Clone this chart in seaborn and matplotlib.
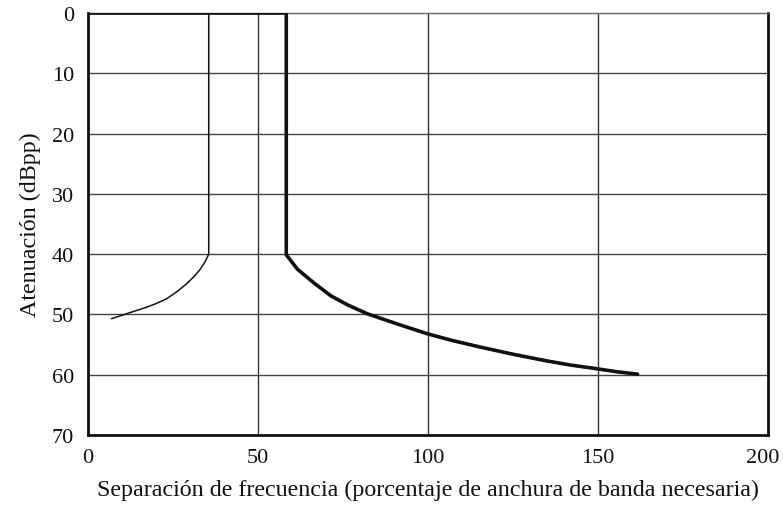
import matplotlib
matplotlib.use("Agg")
import matplotlib.pyplot as plt
import matplotlib.transforms as mtransforms
import seaborn as sns
import pandas as pd

# Thick mask: flat 0 dB out to the band edge, step down to 40 dB, then roll-off
mask_x = [0, 58.3, 58.3, 61.6, 66.5, 71.4, 76.3, 82.2, 91.6, 99.8,
          107.0, 115.3, 125.0, 134.9, 142.0, 149.6, 155.5, 161.6]
mask_y = [0, 0, 40.1, 42.5, 44.8, 46.9, 48.4, 49.9, 51.7, 53.2,
          54.3, 55.4, 56.6, 57.7, 58.4, 59.0, 59.5, 59.9]

# Thin mask: vertical step at the inner edge, then curve towards lower offsets
thin_x = [35.5, 35.5, 34.4, 33.0, 31.2, 29.0, 26.2, 23.1, 20.0, 17.2, 6.9]
thin_y = [0, 40.0, 41.3, 42.5, 43.7, 44.9, 46.2, 47.4, 48.2, 48.8, 50.7]

x_ticks = [0, 50, 100, 150, 200]
y_ticks = [0, 10, 20, 30, 40, 50, 60, 70]

sns.set_style("white")
plt.rcParams["font.family"] = ["Liberation Serif", "DejaVu Serif"]

fig = plt.figure(figsize=(7.83, 5.10), dpi=100)
ax = fig.add_axes([0.1124, 0.145, 0.981 - 0.1124, 0.9725 - 0.145])

for v in [50, 100, 150]:
    ax.axvline(v, color="#333333", lw=1.0, zorder=1)
for h in [10, 20, 30, 40, 50, 60]:
    ax.axhline(h, color="#444444", lw=1.0, zorder=1)

mask_df = pd.DataFrame({"x": mask_x, "y": mask_y})
thin_df = pd.DataFrame({"x": thin_x, "y": thin_y})
sns.lineplot(data=mask_df, x="x", y="y", sort=False, estimator=None,
             color="#111111", lw=2.6, ax=ax, zorder=3,
             solid_joinstyle="round")
sns.lineplot(data=thin_df, x="x", y="y", sort=False, estimator=None,
             color="#111111", lw=1.1, ax=ax, zorder=3,
             solid_joinstyle="round")

ax.set_xlim(0, 200)
ax.set_ylim(70, 0)
ax.set_xticks(x_ticks)
ax.set_yticks(y_ticks)
ax.tick_params(axis="both", length=0, labelsize=16, colors="#111111")
ax.tick_params(axis="x", pad=9)
ax.tick_params(axis="y", pad=10)

# keep the last x tick label inside the figure edge
fig.canvas.draw()
last = ax.get_xticklabels()[-1]
last.set_transform(last.get_transform() +
                   mtransforms.ScaledTranslation(-4 / 72, 0, fig.dpi_scale_trans))

for name, sp in ax.spines.items():
    sp.set_color("#111111")
    sp.set_linewidth(2.0)
ax.spines["top"].set_linewidth(1.0)
ax.spines["top"].set_color("#666666")

ax.set_xlabel("Separación de frecuencia (porcentaje de anchura de banda necesaria)",
              fontsize=17.3, labelpad=9, color="#111111")
ax.set_ylabel("Atenuación (dBpp)", fontsize=17.3, labelpad=8, color="#111111")

fig.savefig("out.png", dpi=100)
